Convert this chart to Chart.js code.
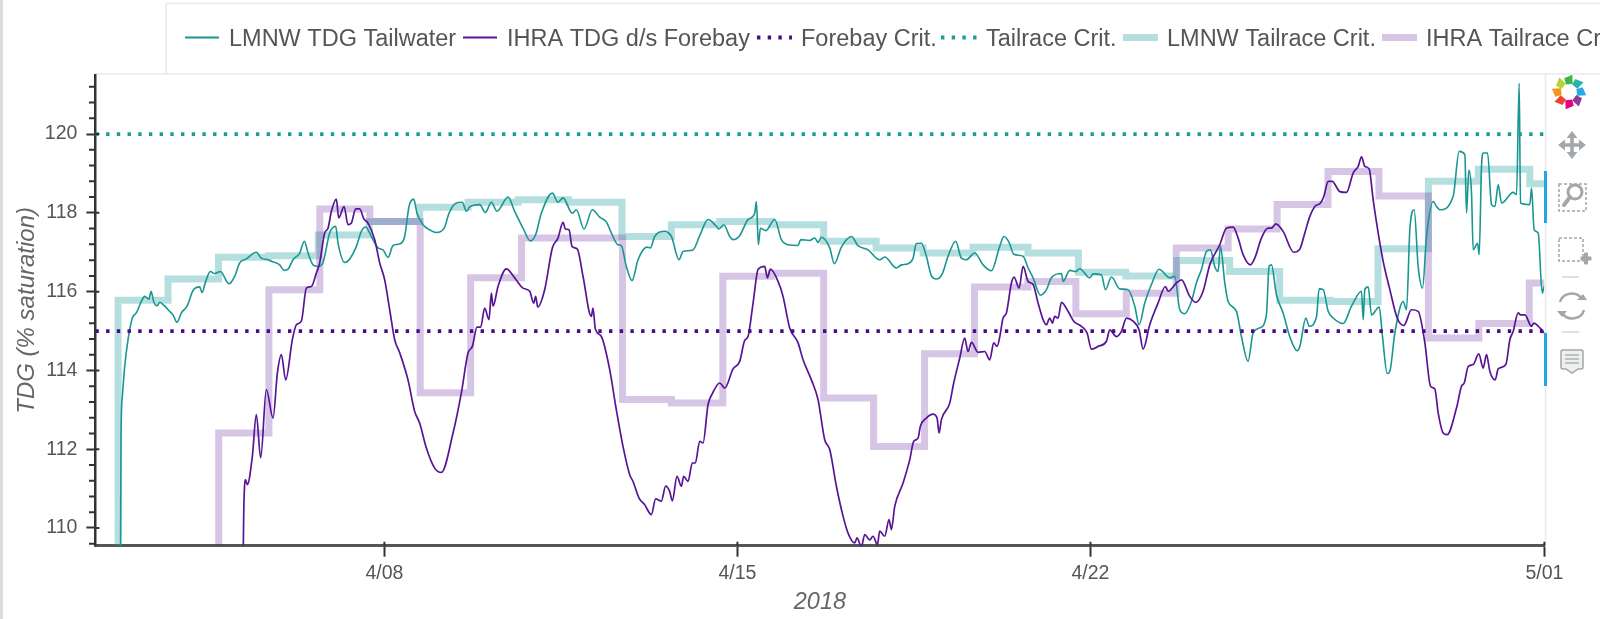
<!DOCTYPE html>
<html><head><meta charset="utf-8">
<style>
html,body{margin:0;padding:0;background:#fff;width:1600px;height:619px;overflow:hidden}
#wrap{position:relative;width:1600px;height:619px}
canvas{position:absolute;left:0;top:0;filter:blur(0.45px)}
#tools{position:absolute;left:0;top:0;filter:blur(0.4px)}
</style>
<script src="https://cdn.jsdelivr.net/npm/chart.js@4"></script>
</head><body><div id="wrap"><canvas id="c" width="1600" height="619"></canvas>
<svg id="tools" width="1600" height="619" xmlns="http://www.w3.org/2000/svg"></svg></div>
<script>
const seriesNames=["LMNW TDG Tailwater","IHRA TDG d/s Forebay","Forebay Crit.","Tailrace Crit.","LMNW Tailrace Crit.","IHRA Tailrace Crit."];
const xTickDays=[8,15,22,31];
const xTickLabels=["4/08","4/15","4/22","5/01"];
const yMajor=[110,112,114,116,118,120];
const yMinor=[109.6,110.4,110.8,111.2,111.6,112.4,112.8,113.2,113.6,114.4,114.8,115.2,115.6,116.4,116.8,117.2,117.6,118.4,118.8,119.2,119.6,120.4,120.8,121.2];
const forebayCrit=115, tailraceCrit=120;
const tailwater=[[2.765,108],[2.778,112.33],[2.804,113.34],[2.851,114.10],[2.917,114.78],[3.003,115.33],[3.082,115.46],[3.181,115.75],[3.247,115.88],[3.333,115.81],[3.373,116.01],[3.426,115.75],[3.492,115.64],[3.545,115.73],[3.644,115.63],[3.743,115.50],[3.809,115.41],[3.888,115.22],[3.974,115.46],[4.087,115.63],[4.206,116.03],[4.338,116.12],[4.384,115.98],[4.457,116.26],[4.549,116.51],[4.635,116.46],[4.748,116.51],[4.919,116.20],[5.032,116.39],[5.131,116.73],[5.263,116.83],[5.461,117.00],[5.560,116.85],[5.693,116.81],[5.759,116.77],[5.924,116.68],[6.010,116.54],[6.089,116.57],[6.188,116.81],[6.321,116.98],[6.413,117.28],[6.486,116.98],[6.585,116.68],[6.684,116.64],[6.783,116.74],[6.915,117.49],[7.034,117.66],[7.081,117.23],[7.213,116.74],[7.312,116.83],[7.444,117.15],[7.544,117.53],[7.629,117.64],[7.742,117.40],[7.874,117.11],[7.973,117.06],[8.072,116.87],[8.171,117.17],[8.303,117.21],[8.402,117.40],[8.488,118.16],[8.581,118.35],[8.647,117.99],[8.766,117.70],[8.898,117.57],[9.030,117.50],[9.195,117.64],[9.281,117.99],[9.427,118.25],[9.546,118.27],[9.625,118.04],[9.691,118.15],[9.889,118.21],[10.002,118.01],[10.121,118.27],[10.233,118.04],[10.451,118.40],[10.583,118.04],[10.749,117.61],[10.894,117.29],[11.0,117.45],[11.112,117.99],[11.330,118.50],[11.442,118.27],[11.542,118.38],[11.727,117.99],[11.806,118.08],[11.958,117.59],[12.123,118.08],[12.269,117.89],[12.401,117.77],[12.500,117.49],[12.632,117.19],[12.698,117.17],[12.797,116.64],[12.910,116.28],[13.029,116.81],[13.207,117.13],[13.273,117.11],[13.359,117.40],[13.557,117.53],[13.690,117.40],[13.842,116.81],[13.921,117.02],[14.119,117.06],[14.252,117.42],[14.417,117.83],[14.582,117.66],[14.635,117.59],[14.728,117.70],[14.847,117.40],[14.913,117.32],[15.045,117.42],[15.210,117.83],[15.343,117.99],[15.376,118.29],[15.415,117.19],[15.455,117.61],[15.561,117.55],[15.739,117.83],[15.871,117.32],[16.003,117.19],[16.202,117.17],[16.255,117.32],[16.433,117.30],[16.532,117.36],[16.598,117.25],[16.664,117.38],[16.830,117.11],[16.922,116.71],[17.061,117.13],[17.259,117.40],[17.391,117.17],[17.590,117.06],[17.821,116.81],[17.920,116.88],[18.152,116.60],[18.251,116.68],[18.383,116.71],[18.482,116.85],[18.548,117.22],[18.647,117.23],[18.746,116.90],[18.846,116.40],[18.945,116.32],[19.063,116.46],[19.176,116.90],[19.328,117.28],[19.440,116.85],[19.539,116.81],[19.705,116.98],[19.870,116.68],[20.035,116.53],[20.201,117.15],[20.280,117.40],[20.386,117.25],[20.479,116.95],[20.664,116.90],[20.763,116.60],[20.862,116.35],[21.007,115.91],[21.126,116.05],[21.225,116.35],[21.424,116.46],[21.457,116.26],[21.589,116.54],[21.708,116.51],[21.787,116.58],[21.985,116.35],[22.052,116.45],[22.217,116.43],[22.296,116.05],[22.415,116.37],[22.580,116.07],[22.746,116.05],[22.878,115.63],[22.964,115.16],[23.076,115.71],[23.208,116.18],[23.360,116.57],[23.572,116.35],[23.671,116.39],[23.770,115.54],[23.869,115.44],[24.001,115.75],[24.100,116.22],[24.200,116.56],[24.299,117.02],[24.378,117.06],[24.464,116.64],[24.530,116.51],[24.577,117.15],[24.663,116.22],[24.729,115.75],[24.894,115.50],[24.993,114.86],[25.125,114.23],[25.224,114.95],[25.356,115.08],[25.488,115.41],[25.541,116.64],[25.588,116.68],[25.687,115.92],[25.819,115.46],[25.951,114.86],[26.097,114.50],[26.151,114.61],[26.270,115.33],[26.336,115.12],[26.482,115.37],[26.534,116.07],[26.614,116.05],[26.713,115.50],[26.812,115.33],[27.010,115.19],[27.175,115.63],[27.374,116.01],[27.407,115.29],[27.440,116.05],[27.506,116.12],[27.572,115.41],[27.724,115.61],[27.790,114.86],[27.883,113.92],[27.936,113.98],[28.035,114.95],[28.200,115.75],[28.266,115.54],[28.332,117.57],[28.418,118.08],[28.497,116.64],[28.584,116.09],[28.663,117.40],[28.795,118.29],[28.861,118.16],[28.927,118.08],[29.191,118.42],[29.310,119.56],[29.423,119.48],[29.456,118.00],[29.502,119.09],[29.555,118.50],[29.588,117.06],[29.674,117.23],[29.707,116.94],[29.753,119.18],[29.786,119.52],[29.873,119.52],[29.952,118.21],[30.018,118.16],[30.084,118.71],[30.151,118.25],[30.381,118.52],[30.447,118.46],[30.500,121.29],[30.526,118.25],[30.711,118.21],[30.745,118.63],[30.797,117.57],[30.877,117.49],[30.957,115.96],[30.990,116.13]];
const forebay=[[5.197,108.9],[5.210,110.30],[5.243,111.23],[5.283,111.10],[5.382,111.82],[5.461,112.88],[5.547,111.78],[5.660,113.51],[5.792,112.79],[5.878,113.93],[5.957,114.40],[6.043,113.76],[6.175,114.78],[6.255,115.16],[6.354,115.25],[6.453,116.09],[6.552,116.13],[6.651,116.47],[6.717,116.73],[6.816,117.49],[6.882,117.61],[6.949,118.04],[7.047,118.35],[7.094,117.87],[7.200,118.16],[7.279,117.70],[7.345,117.74],[7.431,118.10],[7.510,118.10],[7.596,117.84],[7.675,117.74],[7.808,117.32],[7.907,116.73],[8.006,116.30],[8.105,115.54],[8.204,114.78],[8.303,114.45],[8.468,113.76],[8.600,112.96],[8.700,112.66],[8.832,112.03],[8.997,111.52],[9.129,111.41],[9.361,112.41],[9.526,113.43],[9.658,114.44],[9.744,114.61],[9.836,115.10],[9.909,115.10],[9.988,115.58],[10.074,115.29],[10.121,115.96],[10.154,115.63],[10.253,116.13],[10.418,116.58],[10.583,116.35],[10.749,116.09],[10.881,116.01],[10.960,115.71],[11.000,115.88],[11.039,115.61],[11.178,116.05],[11.330,117.11],[11.442,117.36],[11.542,117.76],[11.588,117.59],[11.661,117.57],[11.720,117.15],[11.826,117.08],[11.938,116.39],[12.103,115.37],[12.136,115.58],[12.183,115.05],[12.302,114.86],[12.467,114.02],[12.599,113.00],[12.731,112.07],[12.864,111.35],[12.930,111.18],[13.049,110.76],[13.161,110.59],[13.293,110.34],[13.379,110.74],[13.491,110.68],[13.577,111.06],[13.656,110.93],[13.709,110.69],[13.802,111.31],[13.888,111.06],[13.934,111.31],[14.020,111.18],[14.106,111.65],[14.165,111.65],[14.252,112.20],[14.318,112.16],[14.417,113.13],[14.503,113.41],[14.649,113.68],[14.748,113.55],[14.913,114.04],[15.045,114.23],[15.144,114.76],[15.210,114.86],[15.310,115.71],[15.409,116.56],[15.541,116.64],[15.594,116.35],[15.653,116.57],[15.805,116.26],[15.904,115.88],[16.036,115.08],[16.202,114.70],[16.301,114.27],[16.466,113.76],[16.598,113.26],[16.730,112.24],[16.830,111.99],[16.962,111.06],[17.094,110.30],[17.193,109.87],[17.325,109.62],[17.371,109.75],[17.458,109.53],[17.524,109.83],[17.623,109.70],[17.689,109.79],[17.775,109.58],[17.821,109.92],[17.920,109.79],[18.006,110.21],[18.052,109.96],[18.119,110.55],[18.284,111.14],[18.416,111.73],[18.495,112.20],[18.581,112.28],[18.627,112.58],[18.746,112.79],[18.878,112.89],[18.958,112.79],[18.998,112.41],[19.044,112.75],[19.209,113.17],[19.288,113.68],[19.407,114.31],[19.506,114.82],[19.572,114.48],[19.639,114.71],[19.771,114.46],[19.903,114.48],[20.002,114.27],[20.082,114.70],[20.148,114.61],[20.201,114.85],[20.267,115.33],[20.333,115.46],[20.432,116.22],[20.485,116.37],[20.584,116.09],[20.664,116.64],[20.763,116.26],[20.862,116.18],[20.961,115.71],[21.060,115.29],[21.126,115.16],[21.192,115.33],[21.245,115.20],[21.291,115.37],[21.358,115.33],[21.424,115.73],[21.556,115.50],[21.668,115.25],[21.820,115.12],[21.933,114.95],[22.019,114.54],[22.151,114.61],[22.316,114.74],[22.382,115.03],[22.514,114.86],[22.613,114.99],[22.713,115.33],[22.845,115.25],[22.964,115.03],[23.043,114.54],[23.175,115.16],[23.340,115.71],[23.486,116.13],[23.539,116.01],[23.704,116.22],[23.803,116.30],[23.968,115.88],[24.087,115.73],[24.233,116.01],[24.365,116.68],[24.563,117.19],[24.695,117.61],[24.828,117.64],[24.927,117.36],[25.026,116.94],[25.171,116.68],[25.257,116.85],[25.389,117.36],[25.521,117.61],[25.588,117.61],[25.674,117.72],[25.819,117.53],[26.031,117.00],[26.151,117.08],[26.250,117.49],[26.349,117.91],[26.448,118.16],[26.561,118.25],[26.627,118.42],[26.713,118.80],[26.792,118.80],[26.944,118.54],[27.076,118.52],[27.208,119.01],[27.308,119.18],[27.374,119.42],[27.440,119.18],[27.526,119.11],[27.605,118.33],[27.704,117.49],[27.803,116.77],[27.936,116.05],[28.081,115.33],[28.213,115.14],[28.365,115.54],[28.497,115.50],[28.630,114.70],[28.742,113.60],[28.828,113.53],[28.894,112.92],[28.993,112.41],[29.072,112.37],[29.258,113.05],[29.357,113.60],[29.410,113.68],[29.489,114.10],[29.588,114.15],[29.700,114.42],[29.786,114.06],[29.852,114.40],[29.918,113.98],[30.024,113.76],[30.084,114.04],[30.236,114.15],[30.315,114.78],[30.381,114.99],[30.480,115.46],[30.526,115.41],[30.612,115.41],[30.745,115.12],[30.791,115.20],[30.910,115.08],[30.996,114.95]];
const lmnwCrit=[[2.72,105],[2.72,115.78],[3.71,116.32],[4.71,116.87],[5.70,116.91],[6.69,117.44],[7.70,117.78],[8.70,118.14],[9.66,118.27],[10.65,118.33],[11.65,118.27],[12.71,117.40],[13.69,117.70],[14.65,117.78],[15.67,117.70],[16.71,117.28],[17.75,117.11],[18.68,116.98],[19.67,117.13],[20.76,116.98],[21.76,116.49],[22.70,116.40],[23.71,116.79],[24.76,116.51],[25.75,115.78],[26.75,115.75],[27.70,117.09],[28.70,118.80],[29.69,119.11],[30.71,118.74],[31,118.74]];
const ihraCrit=[[4.715,105],[4.715,112.41],[5.71,116.05],[6.72,118.10],[7.71,117.78],[8.71,113.43],[9.71,116.35],[10.72,117.36],[12.72,113.26],[13.69,113.17],[14.71,116.39],[15.67,116.47],[16.71,113.30],[17.70,112.07],[18.71,114.42],[19.70,116.12],[20.76,116.26],[21.71,115.44],[22.71,115.96],[23.70,117.11],[24.73,117.59],[25.70,118.21],[26.71,119.05],[27.72,118.43],[28.70,114.82],[29.70,115.19],[30.70,116.22],[31,116.22]];

const TEAL='rgb(24,150,146)', PURPLE='rgb(88,20,150)', DOTP='rgb(76,10,135)', DOTT='rgb(20,160,150)';
const TEALA='rgba(27,158,154,0.33)', PURPA='rgba(90,25,150,0.25)';
const toXY=a=>a.map(p=>({x:p[0],y:p[1]}));
const X0=2.27,X1=31,Y0=109.55,Y1=121.5;
const PL=95.4,PR=1544.4,PT=75,PB=545.7;
const SANS='"Liberation Sans", Arial, sans-serif';

const legendItems=[
 {sx:185,ex:219,tx:229,kind:'line',color:TEAL,w:2},
 {sx:463,ex:497,tx:507,kind:'line',color:PURPLE,w:2},
 {sx:757,ex:792,tx:801,kind:'dot',color:DOTP,w:3.8},
 {sx:941,ex:978,tx:986,kind:'dot',color:DOTT,w:3.8},
 {sx:1123,ex:1158,tx:1167,kind:'line',color:TEALA,w:7},
 {sx:1382,ex:1417,tx:1426,kind:'line',color:PURPA,w:7}];

const frame={id:'frame',beforeDraw(ch){
  const c=ch.ctx;c.save();
  c.fillStyle='#fff';c.fillRect(0,0,1600,619);
  c.fillStyle='#dcdcdc';c.fillRect(0,0,3,619);
  c.strokeStyle='#e9e9e9';c.lineWidth=1.5;
  c.beginPath();c.moveTo(1600,3.5);c.lineTo(166,3.5);c.lineTo(166,74);c.moveTo(95,74);c.lineTo(1600,74);
  c.moveTo(1545.5,74);c.lineTo(1545.5,546);c.stroke();
  c.restore();
},afterDraw(ch){
  const c=ch.ctx,x=ch.scales.x,y=ch.scales.y;c.save();
  c.strokeStyle='#333';c.lineWidth=2;c.beginPath();
  yMinor.forEach(v=>{const p=y.getPixelForValue(v);c.moveTo(89,p);c.lineTo(PL,p)});
  yMajor.forEach(v=>{const p=y.getPixelForValue(v);c.moveTo(PL,p);c.lineTo(PL+4,p)});
  c.stroke();
  c.beginPath();c.lineWidth=2;
  xTickDays.forEach(v=>{const p=x.getPixelForValue(v);c.moveTo(p,PB);c.lineTo(p,PB-4)});c.stroke();
  c.font='23.5px '+SANS;c.textBaseline='middle';c.textAlign='left';
  legendItems.forEach((it,i)=>{
    c.strokeStyle=it.color;c.lineWidth=it.w;
    if(it.kind==='dot'){c.setLineDash([3.4,7.3])}else{c.setLineDash([])}
    c.beginPath();c.moveTo(it.sx,37.5);c.lineTo(it.ex,37.5);c.stroke();c.setLineDash([]);
    c.fillStyle='#555';c.fillText(seriesNames[i],it.tx,39.5);
  });
  c.fillStyle='#22a7e0';c.fillRect(1544,171,3,52);c.fillRect(1544,333,3,53);
  c.restore();
}};

new Chart(document.getElementById('c'),{
 type:'line',
 data:{datasets:[
  {label:seriesNames[0],data:toXY(tailwater),borderColor:TEAL,borderWidth:1.6,cubicInterpolationMode:'monotone',order:2},
  {label:seriesNames[1],data:toXY(forebay),borderColor:PURPLE,borderWidth:1.7,cubicInterpolationMode:'monotone',order:1},
  {label:seriesNames[2],data:[{x:X0,y:forebayCrit},{x:X1,y:forebayCrit}],borderColor:DOTP,borderWidth:3.8,borderDash:[3.4,7.3],order:0},
  {label:seriesNames[3],data:[{x:X0,y:tailraceCrit},{x:X1,y:tailraceCrit}],borderColor:DOTT,borderWidth:3.8,borderDash:[3.4,7.3],order:0},
  {label:seriesNames[4],data:toXY(lmnwCrit),borderColor:TEALA,borderWidth:7,stepped:true,order:4,borderJoinStyle:'miter'},
  {label:seriesNames[5],data:toXY(ihraCrit),borderColor:PURPA,borderWidth:7,stepped:true,order:3,borderJoinStyle:'miter'}
 ]},
 options:{
  responsive:false,animation:false,
  elements:{point:{radius:0},line:{tension:0,borderJoinStyle:'round'}},
  layout:{padding:{left:0,top:PT,right:1600-PR,bottom:0}},
  plugins:{legend:{display:false},tooltip:{enabled:false},title:{display:false}},
  scales:{
   x:{type:'linear',min:X0,max:X1,
    afterBuildTicks:s=>{s.ticks=xTickDays.map(v=>({value:v}))},
    afterFit:s=>{s.height=619-PB},
    grid:{drawOnChartArea:false,drawTicks:true,tickLength:11,tickColor:'#333',tickWidth:2},
    border:{color:'#555',width:3},
    ticks:{autoSkip:false,maxRotation:0,padding:5,color:'#555',font:{size:19.5,family:SANS},
      callback:v=>xTickLabels[xTickDays.indexOf(v)]},
    title:{display:true,text:'2018',color:'#666',padding:{top:0,bottom:2},font:{size:23.5,style:'italic',family:SANS}}
   },
   y:{min:Y0,max:Y1,
    afterBuildTicks:s=>{s.ticks=yMajor.map(v=>({value:v}))},
    afterFit:s=>{s.width=PL},
    grid:{drawOnChartArea:false,drawTicks:true,tickLength:9,tickColor:'#333',tickWidth:2},
    border:{color:'#333',width:2.5},
    ticks:{padding:9,color:'#555',font:{size:19.5,family:SANS},callback:v=>String(v)},
    title:{display:true,text:'TDG (% saturation)',color:'#666',padding:{top:13,bottom:0},font:{size:24,style:'italic',family:SANS}}
   }
  }
 },
 plugins:[frame]
});

const NS='http://www.w3.org/2000/svg',svg=document.getElementById('tools');
function add(tag,attrs){const e=document.createElementNS(NS,tag);for(const k in attrs)e.setAttribute(k,attrs[k]);svg.appendChild(e);return e}
const petals=['#3cb54a','#26b5a8','#27aae1','#8e3b97','#e6007e','#ef4136','#f7941e','#b5d334'];
const cx=1569,cy=92,ro=17.5,ri=8;
petals.forEach((col,i)=>{
  const a0=(i*45-112)*Math.PI/180,a1=((i+1)*45-112)*Math.PI/180;
  const pts=[[ri,a0],[ro-3,a0+.05],[ro,(a0+a1)/2+.18],[ri+1,a1+.02]].map(p=>(cx+p[0]*Math.cos(p[1])).toFixed(1)+','+(cy+p[0]*Math.sin(p[1])).toFixed(1)).join(' ');
  add('polygon',{points:pts,fill:col});
});
const G='#a3a7a9';
// pan
add('path',{d:'M1572 131l-5.5 7h3.7v5.2H1565V139.5l-7 5.5 7 5.5v-3.7h5.2v5.2h-3.7l5.5 7 5.5-7h-3.7v-5.2h5.2v3.7l7-5.5-7-5.5v3.7h-5.2V138h3.7z',fill:G});
// box zoom
add('rect',{x:1559,y:184,width:27,height:27,fill:'none',stroke:G,'stroke-width':1.5,'stroke-dasharray':'3 2'});
add('circle',{cx:1575,cy:192,r:7,fill:'#fff',stroke:G,'stroke-width':3});
add('line',{x1:1570,y1:197,x2:1564,y2:205,stroke:G,'stroke-width':4,'stroke-linecap':'round'});
// zoom in box
add('rect',{x:1559,y:238,width:24,height:23,fill:'none',stroke:G,'stroke-width':1.5,'stroke-dasharray':'3 2'});
add('path',{d:'M1581 257h3.5v-4h3v4h3.5v3h-3.5v4h-3v-4h-3.5z',fill:G,stroke:G,'stroke-width':1});
add('line',{x1:1562,y1:277,x2:1579,y2:277,stroke:'#ccc','stroke-width':1.2});
add('line',{x1:1562,y1:332,x2:1579,y2:332,stroke:'#ccc','stroke-width':1.2});
// reset
add('path',{d:'M1560 302a12 11 0 0 1 22-3',fill:'none',stroke:G,'stroke-width':2.5});
add('path',{d:'M1584 310a12 11 0 0 1-22 3',fill:'none',stroke:G,'stroke-width':2.5});
add('path',{d:'M1577 300h10l-4-6z',fill:G});
add('path',{d:'M1557 311h10l-5 6z',fill:G});
// hover
add('path',{d:'M1563 350h18a2 2 0 0 1 2 2v15a2 2 0 0 1-2 2h-3l-6 4-6-4h-3a2 2 0 0 1-2-2v-15a2 2 0 0 1 2-2z',fill:'#eef0f0',stroke:G,'stroke-width':1.5});
[355,359,363].forEach(y=>add('line',{x1:1565,y1:y,x2:1579,y2:y,stroke:G,'stroke-width':1.3}));
</script></body></html>
